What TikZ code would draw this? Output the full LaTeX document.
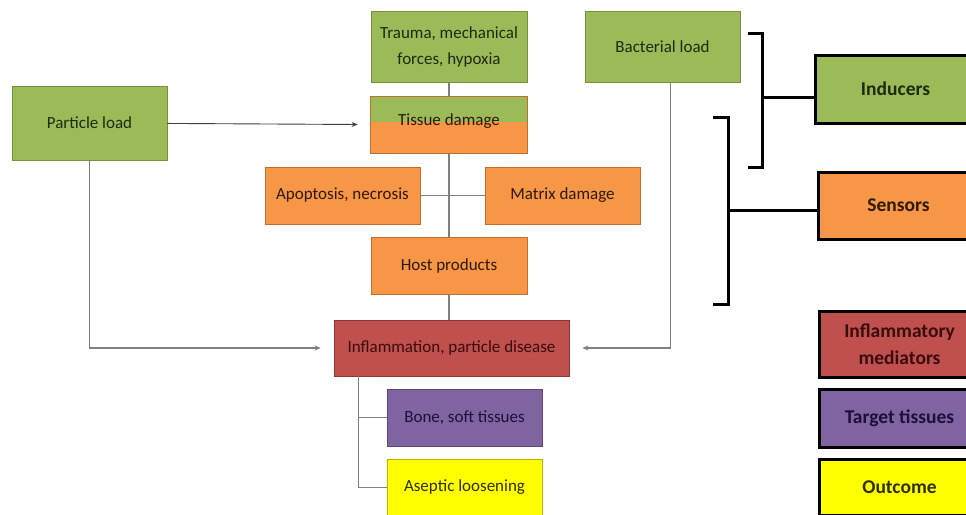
\documentclass[tikz,border=0pt]{standalone}
\usepackage{fontspec}
\setmainfont{Carlito}
\usetikzlibrary{arrows.meta}
\definecolor{gfill}{HTML}{9BBB59}
\definecolor{gdraw}{HTML}{76923C}
\definecolor{gtext}{HTML}{1E2A0E}
\definecolor{ofill}{HTML}{F79646}
\definecolor{odraw}{HTML}{C0702E}
\definecolor{otext}{HTML}{2E1A08}
\definecolor{rfill}{HTML}{C0504D}
\definecolor{rdraw}{HTML}{8C3836}
\definecolor{rtext}{HTML}{3A0C0C}
\definecolor{pfill}{HTML}{8064A2}
\definecolor{pdraw}{HTML}{5C4776}
\definecolor{ptext}{HTML}{1A1038}
\definecolor{yfill}{HTML}{FFFF00}
\definecolor{ydraw}{HTML}{B8B800}
\definecolor{ytext}{HTML}{2E2E08}
\definecolor{conn}{HTML}{808080}
\begin{document}
\begin{tikzpicture}[x=1pt,y=-1pt,
  box/.style={rectangle, minimum width=155pt, minimum height=57pt, inner sep=2pt,
    font=\fontsize{17}{26}\selectfont, align=center, line width=0.8pt},
  gbox/.style={box, fill=gfill, draw=gdraw, text=gtext},
  obox/.style={box, fill=ofill, draw=odraw, text=otext},
  rbox/.style={box, fill=rfill, draw=rdraw, text=rtext},
  pbox/.style={box, fill=pfill, draw=pdraw, text=ptext},
  ybox/.style={box, fill=yfill, draw=ydraw, text=ytext},
  legend/.style={rectangle, draw=black, line width=3pt, minimum width=160pt, anchor=west,
    inner sep=2pt, font=\bfseries\fontsize{19.5}{27}\selectfont, align=center},
  link/.style={draw=conn, line width=1.1pt},
  arr/.style={link, -{Stealth[length=6pt,width=5pt]}, shorten >=13pt},
  brace/.style={draw=black, line width=3pt}
]
\useasboundingbox (0,0) rectangle (966,514);
\clip (0,0) rectangle (966,514);
\fill[white] (0,0) rectangle (966,514);

% flowchart nodes
\node[gbox, minimum width=156pt, minimum height=71pt] (trauma) at (449,46.5) {Trauma, mechanical\\forces, hypoxia};
\node[gbox, minimum height=71pt] (bact) at (662.5,46.5) {Bacterial load};
\node[gbox, minimum height=74pt] (part) at (89.5,123) {Particle load};
\node[box, fill=ofill, minimum width=156pt, minimum height=56pt] (tissue) at (449,125) {};
\fill[gfill] (tissue.north west) rectangle ([yshift=3pt]tissue.east);
\draw[odraw, line width=0.8pt] (tissue.north west) rectangle (tissue.south east);
\node[font=\fontsize{17}{26}\selectfont, text=otext] (tissuelbl) at (449,121) {Tissue damage};
\node[obox] (apop) at (342.5,195.5) {Apoptosis, necrosis};
\node[obox] (matrix) at (562.5,195.5) {Matrix damage};
\node[obox, minimum width=156pt] (host) at (449,265.5) {Host products};
\node[rbox, minimum width=235pt, minimum height=56pt] (infl) at (451.5,348) {Inflammation, particle disease};
\node[pbox] (bone) at (464.5,417.5) {Bone, soft tissues};
\node[ybox] (asep) at (464.5,487.5) {Aseptic loosening};

% connectors
\draw[link] (trauma) -- (tissue);
\draw[link] (tissue) -- (host);
\draw[link] (apop) -- (matrix);
\draw[link] (host.south) -- (host.south |- infl.north);
\draw[arr, draw=black!75, line width=0.9pt] (part) -- (tissue);
\draw[arr] (part.south) |- (infl.west);
\draw[arr] ([xshift=8pt]bact.south) |- (infl.east);
\draw[link] ([xshift=25pt]infl.south west) |- (bone.west);
\draw[link] ([xshift=25pt]infl.south west) |- (asep.west);

% legend
\node[legend, fill=gfill, text=gtext, minimum height=68pt] (ind) at (814,89) {Inducers};
\node[legend, fill=ofill, text=otext, minimum height=67pt] (sens) at (817,205.5) {Sensors};
\node[legend, fill=rfill, text=rtext, minimum height=66pt] (med) at (818,344) {Inflammatory\\mediators};
\node[legend, fill=pfill, text=ptext, minimum height=58pt] (targ) at (818,418) {Target tissues};
\node[legend, fill=yfill, text=ytext, minimum height=56pt] (outc) at (818,487) {Outcome};

% brackets
\coordinate (b1t) at (748,33);
\coordinate (b1b) at (748,167);
\coordinate (b1m) at (762,97);
\draw[brace] (b1t) -| (b1m) |- (b1b);
\draw[brace] (b1m) -- (b1m -| ind.west);
\coordinate (b2t) at (713,117);
\coordinate (b2b) at (713,304);
\coordinate (b2m) at (728,210);
\draw[brace] (b2t) -| (b2m) |- (b2b);
\draw[brace] (b2m) -- (b2m -| sens.west);
\end{tikzpicture}
\end{document}
